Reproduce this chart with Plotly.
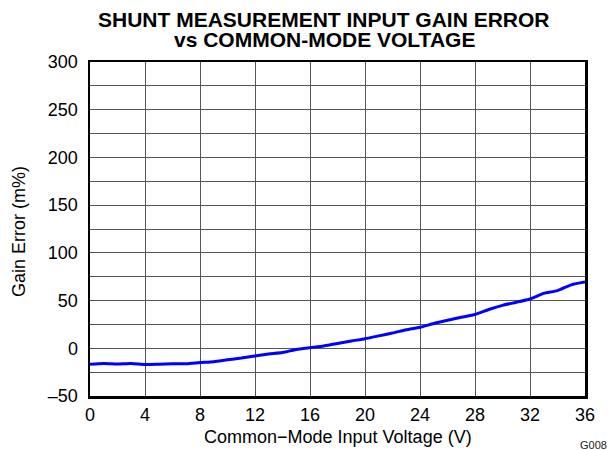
import plotly.graph_objects as go

voltage = list(range(0, 37))
gain_error = [-16.7, -16.0, -16.5, -16.0, -17.0, -16.7, -16.3, -16.2, -15.0, -14.0,
              -12.0, -10.2, -8.0, -6.0, -4.5, -1.2, 0.7, 2.5, 5.0, 7.6,
              10.0, 13.0, 16.0, 19.4, 22.0, 26.0, 29.3, 32.5, 35.4, 40.6,
              45.0, 48.2, 51.7, 57.5, 60.4, 66.5, 69.4]

x_ticks = [0, 4, 8, 12, 16, 20, 24, 28, 32, 36]
y_ticks = [-50, 0, 50, 100, 150, 200, 250, 300]
y_ticktext = ["–50", "0", "50", "100", "150", "200", "250", "300"]

title_lines = ["SHUNT MEASUREMENT INPUT GAIN ERROR", "vs COMMON-MODE VOLTAGE"]
x_title = "Common−Mode Input Voltage (V)"
y_title = "Gain Error (m%)"
figure_id = "G008"

FONT = "Liberation Sans, Arial, sans-serif"
W, H = 610, 450
L, R, T, B = 90, 25, 62, 54
PW, PH = W - L - R, H - T - B


def px(xp):
    return (xp - L) / PW


def py(yp):
    return (H - B - yp) / PH


fig = go.Figure()
fig.add_trace(go.Scatter(x=voltage, y=gain_error, mode="lines",
                         line=dict(color="#0000ff", width=3, shape="spline", smoothing=0.6),
                         hoverinfo="skip", showlegend=False))

fig.update_layout(
    width=W, height=H,
    margin=dict(l=L, r=R, t=T, b=B),
    paper_bgcolor="white", plot_bgcolor="white",
    font=dict(family=FONT, color="black"),
    xaxis=dict(range=[0, 36], tickvals=x_ticks, ticks="", showgrid=True,
               gridcolor="#555555", gridwidth=1, zeroline=False,
               showline=True, linecolor="black", linewidth=2.5, mirror=True,
               tickfont=dict(size=18), ticklabelstandoff=1),
    yaxis=dict(range=[-50, 300], tickvals=y_ticks, ticktext=y_ticktext, ticks="",
               showgrid=True, gridcolor="#555555", gridwidth=1, zeroline=False,
               minor=dict(dtick=25, showgrid=True, gridcolor="#555555", gridwidth=1),
               showline=True, linecolor="black", linewidth=2.5, mirror=True,
               tickfont=dict(size=18), ticklabelstandoff=6),
    annotations=[
        dict(text="<b>" + title_lines[0] + "</b>", x=px(324), y=py(19.5), xref="paper", yref="paper",
             showarrow=False, xanchor="center", yanchor="middle", font=dict(size=21)),
        dict(text="<b>" + title_lines[1] + "</b>", x=px(324), y=py(39.5), xref="paper", yref="paper",
             showarrow=False, xanchor="center", yanchor="middle", font=dict(size=21)),
        dict(text=x_title, x=px(337.5), y=py(437), xref="paper", yref="paper",
             showarrow=False, xanchor="center", yanchor="middle", font=dict(size=18)),
        dict(text=y_title, x=px(19), y=py(232), xref="paper", yref="paper", textangle=-90,
             showarrow=False, xanchor="center", yanchor="middle", font=dict(size=18)),
        dict(text=figure_id, x=px(609), y=py(444.5), xref="paper", yref="paper",
             showarrow=False, xanchor="right", yanchor="middle", font=dict(size=11, color="#222222")),
    ],
)

fig.write_html("out.html", config={"displayModeBar": False, "staticPlot": True},
               post_script="document.body.style.margin='0';document.body.style.padding='0';"
                           "document.documentElement.style.overflow='hidden';")
